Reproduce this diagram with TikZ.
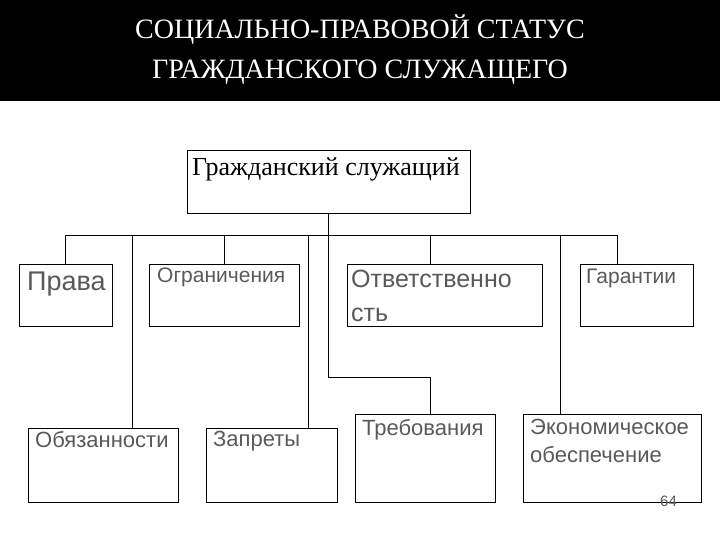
\documentclass[tikz,border=0pt]{standalone}
\usepackage{fontspec}
\setmainfont{Liberation Serif}
\newfontfamily\arialf{Liberation Sans}
\begin{document}
\begin{tikzpicture}[x=1pt,y=-1pt,
  box/.style={draw,line width=0.8pt},
  lbl/.style={anchor=north west,inner sep=0pt,font=\arialf,text=black!65,align=left},
  ln/.style={line width=0.8pt}]
\useasboundingbox (0,0) rectangle (720,540);
\fill[black] (0,0) rectangle (720,101);
\node[text=white,font=\fontsize{28}{34}\selectfont,align=center] (title) at (360,50) {СОЦИАЛЬНО-ПРАВОВОЙ СТАТУС\\[6pt]ГРАЖДАНСКОГО СЛУЖАЩЕГО};
% boxes
\draw[box] (187,150) rectangle (470,213); \coordinate (top) at (328,213);
\node[font=\fontsize{26}{30}\selectfont,anchor=north,inner sep=0pt] (tt) at (326,158) {Гражданский служащий};
\draw[box] (19,264) rectangle (112,326);
\draw[box] (149,264) rectangle (299,326);
\draw[box] (347,264) rectangle (542,326);
\draw[box] (580,264) rectangle (693,326);
\draw[box] (28,428) rectangle (178,502);
\draw[box] (206,428) rectangle (337,502);
\draw[box] (355,414) rectangle (495,502);
\draw[box] (523,414) rectangle (701,502);
\node[lbl,font=\arialf\fontsize{27}{30}\selectfont] (a) at (27,272) {Права};
\node[lbl,font=\arialf\fontsize{21}{24}\selectfont] (b) at (157,268) {Ограничения};
\node[lbl,font=\arialf\fontsize{25}{34}\selectfont] (c) at (351,270) {Ответственно\\сть};
\node[lbl,font=\arialf\fontsize{21}{24}\selectfont] (d) at (586,269) {Гарантии};
\node[lbl,font=\arialf\fontsize{22}{28}\selectfont] (e) at (35,431) {Обязанности};
\node[lbl,font=\arialf\fontsize{22}{28}\selectfont] (f) at (213,431) {Запреты};
\node[lbl,font=\arialf\fontsize{22}{28}\selectfont] (g) at (362,419) {Требования};
\node[lbl,font=\arialf\fontsize{22}{28}\selectfont] (h) at (530,419) {Экономическое\\обеспечение};
\node[lbl,font=\arialf\fontsize{15}{17}\selectfont] (p) at (660,496) {64};
% connectors
\coordinate (hl) at (65,235); \coordinate (hr) at (617,235);
\draw[ln] (hl) -- (hr);
\draw[ln] (top) -- (328,377) -- (430,377) -- (430,414);
\draw[ln] (65,235) -- (65,264);
\draw[ln] (224,235) -- (224,264);
\draw[ln] (430,235) -- (430,264);
\draw[ln] (617,235) -- (617,264);
\draw[ln] (132,235) -- (132,428);
\draw[ln] (308,235) -- (308,428);
\draw[ln] (560,235) -- (560,414);
\end{tikzpicture}
\end{document}
